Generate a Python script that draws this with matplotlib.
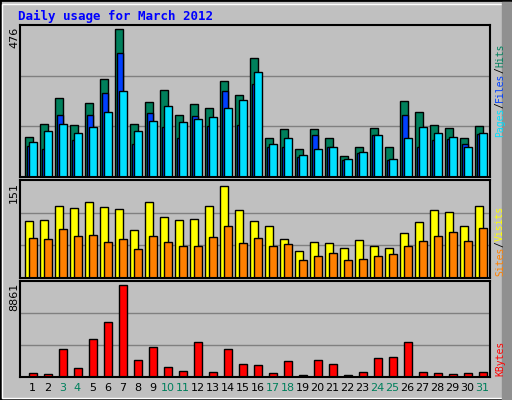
import matplotlib
matplotlib.use("Agg")
import matplotlib.pyplot as plt
from matplotlib.patches import Rectangle

days = list(range(1, 32))
weekend = [3, 4, 10, 11, 17, 18, 24, 25, 31]
hits = [130,172,253,166,237,315,476,172,240,279,198,234,221,308,263,382,127,153,89,153,124,69,98,156,98,244,208,166,156,124,163]
files = [99,89,198,118,198,269,399,105,205,160,124,195,163,276,166,298,95,98,63,134,95,56,76,134,56,198,98,118,121,105,137]
pages = [111,147,172,140,160,208,276,147,179,227,176,185,192,221,247,337,105,124,72,89,98,59,82,134,59,127,160,143,130,98,143]
visits = [94,95,118,115,125,117,113,79,125,100,95,97,118,151,112,94,85,64,44,59,57,49,62,53,49,74,92,112,108,85,118]
sites = [66,64,80,69,71,59,64,48,69,59,53,53,67,85,57,66,53,56,30,36,41,30,31,36,39,53,61,69,75,61,82]
kbytes = [420,323,2652,905,3622,5271,8861,1682,2846,1003,614,3331,517,2652,1294,1197,420,1585,226,1682,1294,226,517,1876,1973,3331,517,420,323,420,517]

W, H = 512, 400
fig = plt.figure(figsize=(W/100, H/100), dpi=100, facecolor="#C0C0C0")
fig.patches.append(Rectangle((0, 0), 1, 1, transform=fig.transFigure, fill=False, edgecolor="black", lw=2))
fig.patches.append(Rectangle((2/W, 2/H), 1-6/W, 1-6/H, transform=fig.transFigure, fill=False, edgecolor="white", lw=1))
fig.patches.append(Rectangle((W-10, 0), 10, H-2, transform=None, color="#909090"))

def ax_at(x0, y0, x1, y1):
    ax = fig.add_axes([x0/W, 1-y1/H, (x1-x0)/W, (y1-y0)/H])
    ax.set_facecolor("#C0C0C0")
    ax.set_xticks([]); ax.set_yticks([])
    for s in ax.spines.values():
        s.set_color("black"); s.set_linewidth(1.5)
    ax.set_xlim(0.167, 31.5)
    return ax

fig.text(18/W, 1-16/H, "Daily usage for March 2012", color="#0000FF", fontsize=9,
         family="DejaVu Sans Mono", fontweight="bold", va="center")

def grid(ax, top):
    for f in (1/3, 2/3):
        ax.axhline(top*f, color="#808080", lw=1, zorder=0)

ec = dict(edgecolor="black", linewidth=1)
w = 0.53
L = [d-0.5 for d in days]

ax1 = ax_at(20, 25, 490, 177)
t1 = 476*152/148
ax1.set_ylim(0, t1); grid(ax1, t1)
ax1.bar(L, hits, width=w, align="edge", color="#00805C", **ec)
ax1.bar([l+0.13 for l in L], files, width=0.4, align="edge", color="#0040FF", **ec)
ax1.bar([l+0.27 for l in L], pages, width=w, align="edge", color="#00E0FF", **ec)

ax2 = ax_at(20, 180, 490, 278)
t2 = 151*98/92
ax2.set_ylim(0, t2); grid(ax2, t2)
ax2.bar(L, visits, width=w, align="edge", color="#FFFF00", **ec)
ax2.bar([l+0.27 for l in L], sites, width=w, align="edge", color="#FF8000", **ec)

ax3 = ax_at(20, 281, 490, 377)
t3 = 8861*96/92
ax3.set_ylim(0, t3); grid(ax3, t3)
ax3.bar([l+0.27 for l in L], kbytes, width=w, align="edge", color="#FF0000", **ec)

for y, s in [(27, "476"), (182, "151"), (283, "8861")]:
    fig.text(14/W, 1-y/H, s, rotation=90, va="top", ha="center", fontsize=8, color="black")

for d in days:
    x = 20 + (d - 0.167) * 470/31.333
    fig.text(x/W, 1-388/H, str(d), ha="center", va="center", fontsize=8,
             color="#00805C" if d in weekend else "black")

CH = 7 * 100/72 * 0.602
def vlabel(parts, ybottom):
    y = ybottom
    for txt, col in parts:
        fig.text(500/W, 1-y/H, txt, rotation=90, ha="center", va="bottom",
                 fontsize=7, color=col, family="DejaVu Sans Mono")
        y -= len(txt) * CH
vlabel([("Pages", "#00E0FF"), ("/", "black"), ("Files", "#0040FF"), ("/", "black"), ("Hits", "#00805C")], 137)
vlabel([("Sites", "#FF8000"), ("/", "black"), ("Visits", "#FFFF00")], 276)
vlabel([("KBytes", "#FF0000")], 376)

fig.savefig("out.png", dpi=100, facecolor=fig.get_facecolor())
